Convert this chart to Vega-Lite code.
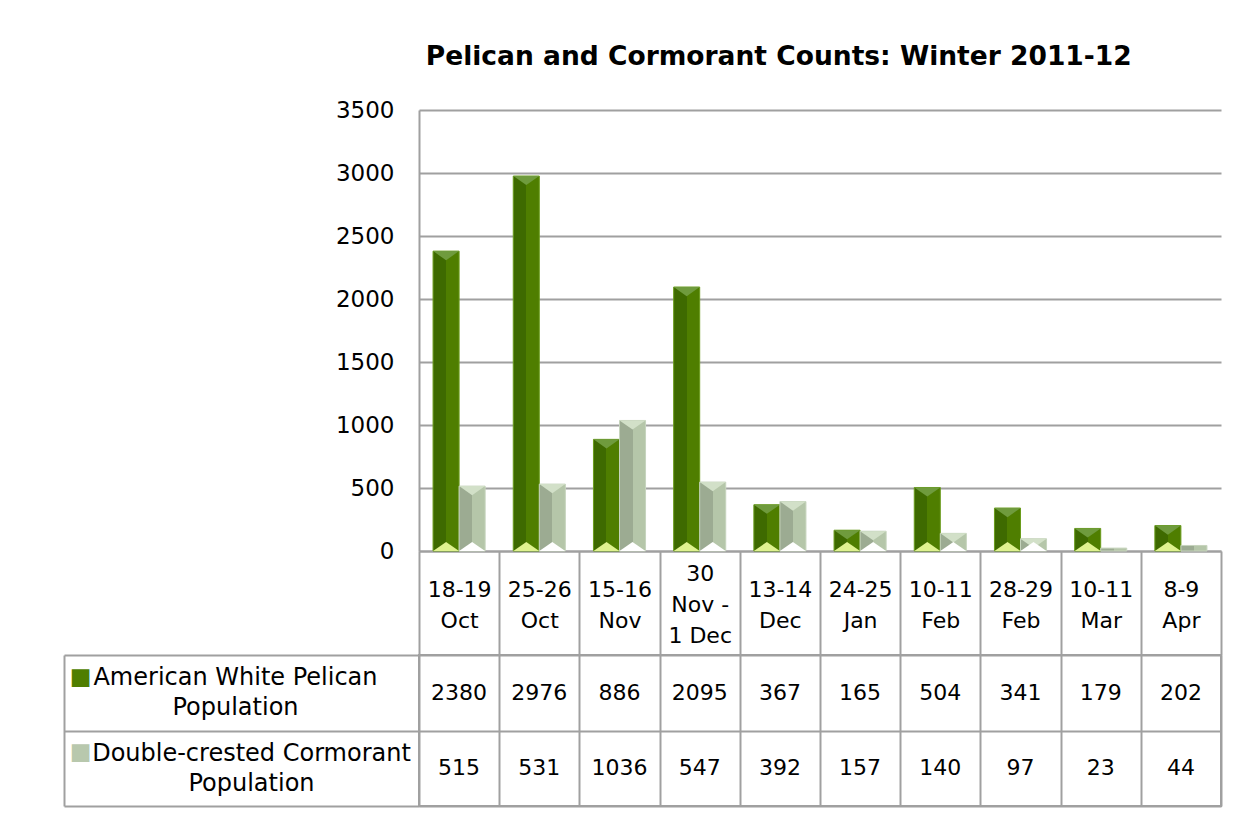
{
  "$schema": "https://vega.github.io/schema/vega-lite/v6.json",
  "padding": {"left": 62, "top": 43, "right": 10, "bottom": 5},
  "background": "white",
  "config": {"font": "DejaVu Sans", "view": {"stroke": null}},
  "datasets": {
    "counts": [
      {"date": "18-19|Oct", "series": "American White Pelican Population", "count": 2380},
      {"date": "25-26|Oct", "series": "American White Pelican Population", "count": 2976},
      {"date": "15-16|Nov", "series": "American White Pelican Population", "count": 886},
      {"date": "30|Nov -|1 Dec", "series": "American White Pelican Population", "count": 2095},
      {"date": "13-14|Dec", "series": "American White Pelican Population", "count": 367},
      {"date": "24-25|Jan", "series": "American White Pelican Population", "count": 165},
      {"date": "10-11|Feb", "series": "American White Pelican Population", "count": 504},
      {"date": "28-29|Feb", "series": "American White Pelican Population", "count": 341},
      {"date": "10-11|Mar", "series": "American White Pelican Population", "count": 179},
      {"date": "8-9|Apr", "series": "American White Pelican Population", "count": 202},
      {"date": "18-19|Oct", "series": "Double-crested Cormorant Population", "count": 515},
      {"date": "25-26|Oct", "series": "Double-crested Cormorant Population", "count": 531},
      {"date": "15-16|Nov", "series": "Double-crested Cormorant Population", "count": 1036},
      {"date": "30|Nov -|1 Dec", "series": "Double-crested Cormorant Population", "count": 547},
      {"date": "13-14|Dec", "series": "Double-crested Cormorant Population", "count": 392},
      {"date": "24-25|Jan", "series": "Double-crested Cormorant Population", "count": 157},
      {"date": "10-11|Feb", "series": "Double-crested Cormorant Population", "count": 140},
      {"date": "28-29|Feb", "series": "Double-crested Cormorant Population", "count": 97},
      {"date": "10-11|Mar", "series": "Double-crested Cormorant Population", "count": 23},
      {"date": "8-9|Apr", "series": "Double-crested Cormorant Population", "count": 44}
    ]
  },
  "bounds": "flush",
  "spacing": 104,
  "vconcat": [
    {
      "width": 802,
      "height": 441,
      "data": {"name": "counts"},
      "title": {"text": "Pelican and Cormorant Counts: Winter 2011-12", "fontSize": 26.5, "fontWeight": "bold", "anchor": "middle", "frame": "bounds", "offset": 29, "color": "black"},
      "encoding": {
        "x": {
          "field": "date", "type": "nominal",
          "scale": {"domain": ["18-19|Oct", "25-26|Oct", "15-16|Nov", "30|Nov -|1 Dec", "13-14|Dec", "24-25|Jan", "10-11|Feb", "28-29|Feb", "10-11|Mar", "8-9|Apr"], "paddingInner": 0, "paddingOuter": 0},
          "axis": {"orient": "bottom", "title": null, "labelExpr": "isValid(datum.value) ? split(datum.value, '|') : ''", "labelAngle": 0, "labelAlign": "center", "labelBaseline": "top", "labelFontSize": 22, "labelColor": "black", "labelLineHeight": 31, "labelPadding": {"condition": {"test": "isValid(datum.value) && indexof(datum.value, 'Nov -') >= 0", "value": -92}, "value": -76}, "tickSize": 104, "tickBand": "extent", "tickColor": "#a0a0a0", "tickWidth": 2, "domain": true, "domainColor": "#a0a0a0", "domainWidth": 2, "labelOverlap": false, "grid": false}
        },
        "xOffset": {
          "field": "series", "type": "nominal",
          "scale": {"domain": ["American White Pelican Population", "Double-crested Cormorant Population"], "paddingInner": 0, "paddingOuter": 0.54}
        },
        "y": {
          "field": "count", "type": "quantitative",
          "scale": {"domain": [0, 3500], "nice": false},
          "axis": {"title": null, "values": [0, 500, 1000, 1500, 2000, 2500, 3000, 3500], "format": "d", "labelFontSize": 23, "labelColor": "black", "labelPadding": 25, "ticks": false, "tickSize": 0, "domain": true, "domainColor": "#a0a0a0", "domainWidth": 2, "grid": true, "gridColor": "#a0a0a0", "gridWidth": 2, "gridOpacity": 1}
        }
      },
      "layer": [
        {
          "transform": [{"filter": "datum.series == 'American White Pelican Population'"}],
          "mark": {"type": "bar", "stroke": "#6a9c1c", "strokeWidth": 1, "fill": {"gradient": "linear", "x1": 0, "x2": 1, "y1": 0, "y2": 0, "stops": [{"offset": 0, "color": "#3e6a00"}, {"offset": 0.5, "color": "#3e6a00"}, {"offset": 0.5, "color": "#4f7e00"}, {"offset": 1, "color": "#4f7e00"}]}}
        },
        {
          "transform": [{"filter": "datum.series == 'Double-crested Cormorant Population'"}],
          "mark": {"type": "bar", "stroke": "#c6d4bd", "strokeWidth": 1, "fill": {"gradient": "linear", "x1": 0, "x2": 1, "y1": 0, "y2": 0, "stops": [{"offset": 0, "color": "#9cab92"}, {"offset": 0.5, "color": "#9cab92"}, {"offset": 0.5, "color": "#b5c6a9"}, {"offset": 1, "color": "#b5c6a9"}]}}
        },
        {
          "transform": [{"filter": "datum.count > 60"}],
          "mark": {"type": "point", "shape": "M-1,0L1,0L0,0.7Z", "size": 676, "filled": true, "opacity": 1, "strokeWidth": 0},
          "encoding": {
            "fill": {"condition": {"test": "datum.series == 'American White Pelican Population'", "value": "#6f9b3d"}, "value": "#d2e0c8"}
          }
        },
        {
          "transform": [{"filter": "datum.count > 60"}],
          "mark": {"type": "point", "shape": "M-1,0L0,-0.7L1,0Z", "size": 676, "filled": true, "opacity": 1, "strokeWidth": 0},
          "encoding": {
            "y": {"datum": 0, "type": "quantitative"},
            "fill": {"condition": {"test": "datum.series == 'American White Pelican Population'", "value": "#dff28f"}, "value": "#ffffff"}
          }
        }
      ]
    },
    {
      "width": 802,
      "height": 151,
      "view": {"stroke": "#a0a0a0", "strokeWidth": 2},
      "data": {"name": "counts"},
      "layer": [
        {
          "mark": {"type": "text", "fontSize": 22, "color": "black"},
          "encoding": {
            "x": {
              "field": "date", "type": "nominal",
              "scale": {"domain": ["18-19|Oct", "25-26|Oct", "15-16|Nov", "30|Nov -|1 Dec", "13-14|Dec", "24-25|Jan", "10-11|Feb", "28-29|Feb", "10-11|Mar", "8-9|Apr"], "paddingInner": 0, "paddingOuter": 0},
              "axis": {"orient": "bottom", "title": null, "labels": false, "ticks": false, "domain": false, "grid": true, "tickBand": "extent", "gridColor": "#a0a0a0", "gridWidth": 2, "gridOpacity": 1}
            },
            "y": {
              "field": "series", "type": "nominal",
              "scale": {"domain": ["American White Pelican Population", "Double-crested Cormorant Population"], "paddingInner": 0, "paddingOuter": 0},
              "axis": {"orient": "left", "title": null, "labelExpr": "isValid(datum.value) ? [replace(datum.value, ' Population', ''), 'Population'] : ''", "labelAlign": "center", "labelBaseline": "middle", "labelFontSize": 24, "labelColor": "black", "labelLineHeight": 30, "labelPadding": {"condition": {"test": "datum.value == 'Double-crested Cormorant Population'", "value": -187}, "value": -171}, "labelOffset": -15, "labelLimit": 500, "ticks": true, "tickSize": 355, "tickBand": "extent", "tickColor": "#a0a0a0", "tickWidth": 2, "domain": false, "grid": true, "gridColor": "#a0a0a0", "gridWidth": 2, "gridOpacity": 1}
            },
            "text": {"field": "count", "type": "quantitative", "format": "d"}
          }
        },
        {
          "mark": {"type": "text", "opacity": 0},
          "encoding": {
            "y": {
              "field": "series", "type": "nominal",
              "scale": {"domain": ["American White Pelican Population", "Double-crested Cormorant Population"], "paddingInner": 0, "paddingOuter": 0},
              "axis": {"orient": "left", "offset": 355, "title": null, "labelExpr": "'■'", "labelAlign": "center", "labelBaseline": "middle", "labelFontSize": 23, "labelPadding": -16, "labelOffset": -16, "labelColor": {"condition": {"test": "datum.value == 'American White Pelican Population'", "value": "#4f7e00"}, "value": "#b8c8ad"}, "ticks": false, "tickSize": 0, "grid": false, "domain": true, "domainColor": "#a0a0a0", "domainWidth": 2}
            },
            "text": {"field": "count", "type": "quantitative", "format": "d"}
          }
        }
      ],
      "resolve": {"axis": {"y": "independent"}}
    }
  ]
}
